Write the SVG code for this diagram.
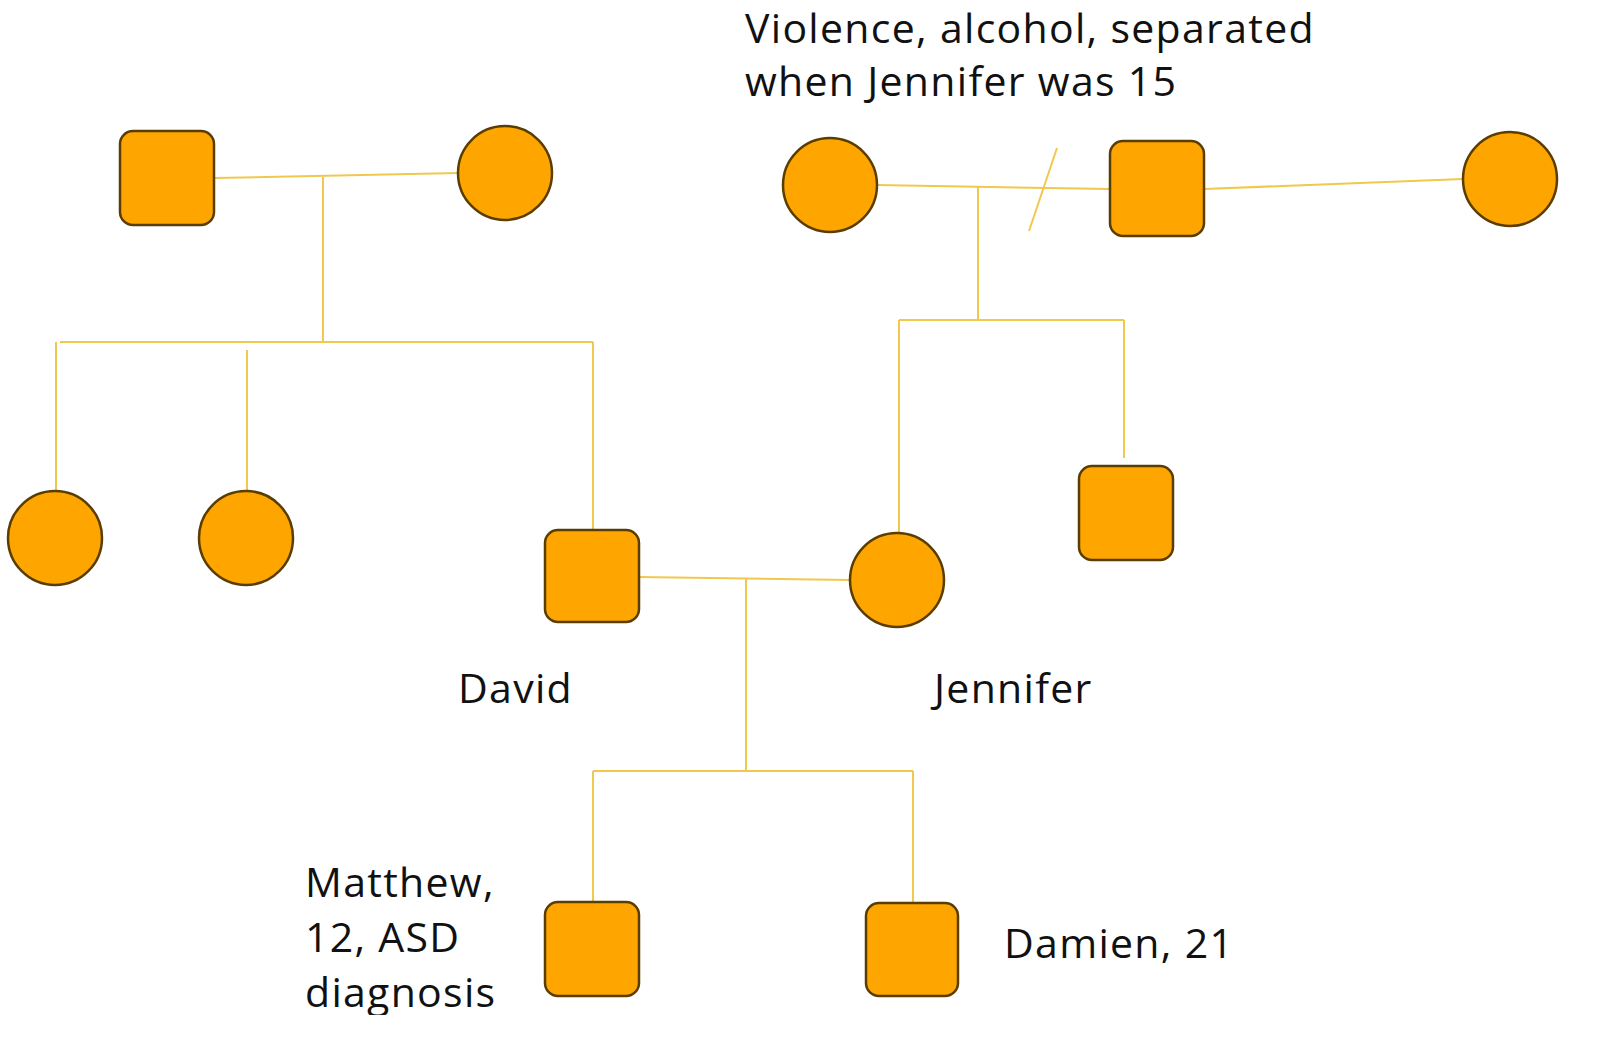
<svg xmlns="http://www.w3.org/2000/svg" width="1600" height="1041" viewBox="0 0 1600 1041">
<style>
.n{fill:#FFA500;stroke:#5a3d00;stroke-width:2.5}
.c line{stroke:#F0C850;stroke-width:2}
text{font-family:"Open Sans",Lato,sans-serif;font-size:41px;letter-spacing:1.3px;fill:#111}
</style>
<rect width="1600" height="1041" fill="#fff"/>
<g class="c" id="connectors">
<line x1="214" y1="178" x2="458" y2="173"/>
<line x1="323" y1="177" x2="323" y2="342"/>
<line x1="60" y1="342" x2="593" y2="342"/>
<line x1="56" y1="342" x2="56" y2="491"/>
<line x1="247" y1="350" x2="247" y2="491"/>
<line x1="593" y1="342" x2="593" y2="530"/>
<line x1="877" y1="185" x2="1110" y2="189"/>
<line x1="1057" y1="148" x2="1029" y2="231"/>
<line x1="1204" y1="189" x2="1463" y2="179"/>
<line x1="978" y1="187" x2="978" y2="320"/>
<line x1="899" y1="320" x2="1124" y2="320"/>
<line x1="899" y1="320" x2="899" y2="533"/>
<line x1="1124" y1="320" x2="1124" y2="458"/>
<line x1="639" y1="577" x2="850" y2="580"/>
<line x1="746" y1="579" x2="746" y2="771"/>
<line x1="593" y1="771" x2="913" y2="771"/>
<line x1="593" y1="771" x2="593" y2="902"/>
<line x1="913" y1="771" x2="913" y2="903"/>
</g>
<g id="pgf"><rect class="n" x="120" y="131" width="94" height="94" rx="13"/></g>
<g id="pgm"><circle class="n" cx="505" cy="173" r="47"/></g>
<g id="mgm"><circle class="n" cx="830" cy="185" r="47"/><text x="745" y="43">Violence, alcohol, separated</text><text x="745" y="96">when Jennifer was 15</text></g>
<g id="mgf"><rect class="n" x="1110" y="141" width="94" height="95" rx="13"/></g>
<g id="mgf2"><circle class="n" cx="1510" cy="179" r="47"/></g>
<g id="aunt1"><circle class="n" cx="55" cy="538" r="47"/></g>
<g id="aunt2"><circle class="n" cx="246" cy="538" r="47"/></g>
<g id="david"><rect class="n" x="545" y="530" width="94" height="92" rx="13"/><text x="458" y="703">David</text></g>
<g id="jennifer"><circle class="n" cx="897" cy="580" r="47"/><text x="934" y="703">Jennifer</text></g>
<g id="uncle"><rect class="n" x="1079" y="466" width="94" height="94" rx="13"/></g>
<g id="matthew"><rect class="n" x="545" y="902" width="94" height="94" rx="13"/><text x="305" y="897">Matthew,</text><text x="305" y="952">12, ASD</text><text x="305" y="1007">diagnosis</text></g>
<g id="damien"><rect class="n" x="866" y="903" width="92" height="93" rx="13"/><text x="1004" y="958">Damien, 21</text></g>
<rect x="0" y="1015" width="1600" height="26" fill="#fff"/>
</svg>
